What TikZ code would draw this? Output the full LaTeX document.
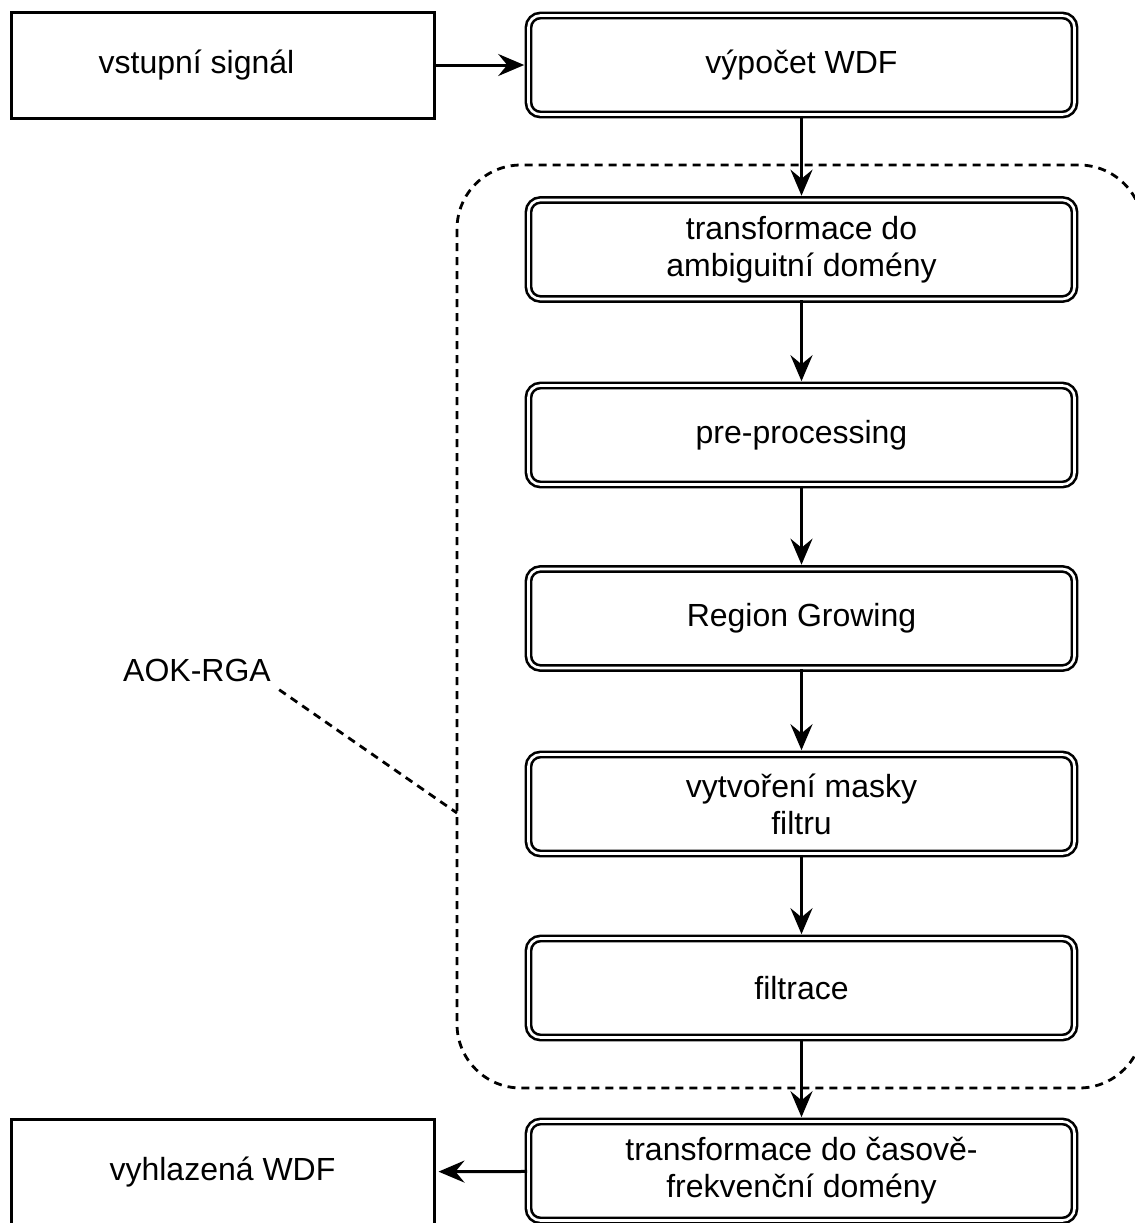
\documentclass[tikz,border=0pt]{standalone}
\usepackage{fontspec}
\setmainfont{Liberation Sans}
\usetikzlibrary{arrows.meta}

\begin{document}
\begin{tikzpicture}[x=0.5pt,y=-0.5pt,
        font=\fontsize{16}{18.5}\selectfont,
        stepbox/.style={draw, double, double distance=1.3pt, line width=1.3pt, rounded corners=6pt,
            minimum width=273pt, minimum height=49.5pt, align=center, inner sep=0pt},
        iobox/.style={draw, line width=1.5pt, minimum width=211.5pt, minimum height=53pt, align=center},
        flow/.style={-{Stealth[length=13pt,width=11pt,inset=4.5pt]}, line width=1.5pt, shorten >=1.5pt},
        grp/.style={dash pattern=on 4pt off 3pt, line width=1.4pt}]
        \useasboundingbox (0,0) rectangle (1135,1223);
        \clip (0,0) rectangle (1135,1223);

        % dashed group
        \draw[grp, rounded corners=32pt] (457,165) rectangle (1143,1088);
        \coordinate (grpleft) at (457,813);

        \node[iobox] (input) at (222.5,65) {\hspace*{-26pt}vstupní signál};
        \node[iobox] (output) at (222.5,1172) {vyhlazená WDF};

        \node[stepbox] (wdf) at (801.5,65) {výpočet WDF};
        \node[stepbox] (amb) at (801.5,249.5) {transformace do\\ambiguitní domény};
        \node[stepbox] (pre) at (801.5,435) {pre-processing};
        \node[stepbox] (rg) at (801.5,618.5) {Region Growing};
        \node[stepbox] (mask) at (801.5,804) {vytvoření masky\\filtru};
        \node[stepbox] (filt) at (801.5,988) {filtrace};
        \node[stepbox] (tf) at (801.5,1171) {transformace do časově-\\frekvenční domény};

        \node[inner sep=4pt] (aok) at (197,670) {AOK-RGA};

        \draw[flow] (input) -- (wdf);
        \draw[flow] (wdf) -- (amb);
        \draw[flow] (amb) -- (pre);
        \draw[flow] (pre) -- (rg);
        \draw[flow] (rg) -- (mask);
        \draw[flow] (mask) -- (filt);
        \draw[flow] (filt) -- (tf);
        \draw[flow] (tf) -- (output);

        \draw[grp] (aok.south east) -- (grpleft);
    \end{tikzpicture}
\end{document}
